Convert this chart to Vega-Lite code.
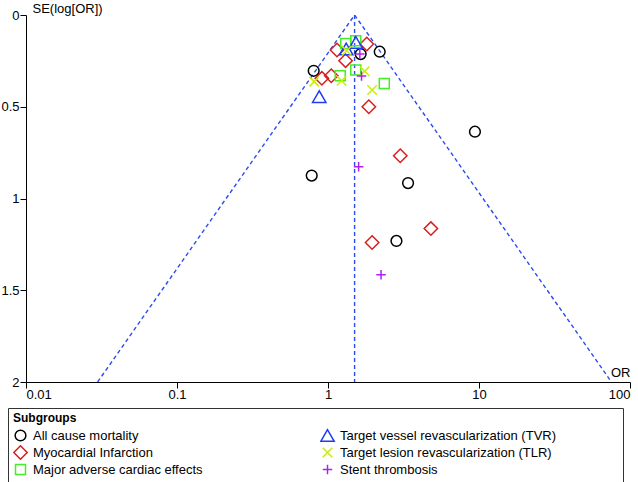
{
  "$schema": "https://vega.github.io/schema/vega-lite/v6.json",
  "width": 604,
  "height": 367,
  "padding": {"left": 0, "top": 2, "right": 5, "bottom": 2},
  "config": {
    "view": {"stroke": null},
    "font": "Liberation Sans",
    "axis": {"labelFont": "Liberation Sans", "titleFont": "Liberation Sans", "labelFontSize": 13, "titleFontSize": 13, "titleFontWeight": "normal", "labelColor": "#000", "titleColor": "#000", "domainColor": "#000", "tickColor": "#000", "grid": false}
  },
  "datasets": {
    "pts": [
      {"g": "All cause mortality", "or": 0.804, "se": 0.304},
      {"g": "All cause mortality", "or": 1.645, "se": 0.213},
      {"g": "All cause mortality", "or": 2.2, "se": 0.2},
      {"g": "All cause mortality", "or": 9.4, "se": 0.636},
      {"g": "All cause mortality", "or": 0.78, "se": 0.875},
      {"g": "All cause mortality", "or": 3.39, "se": 0.916},
      {"g": "All cause mortality", "or": 2.84, "se": 1.231},
      {"g": "Myocardial Infarction", "or": 1.147, "se": 0.191},
      {"g": "Myocardial Infarction", "or": 1.806, "se": 0.158},
      {"g": "Myocardial Infarction", "or": 1.307, "se": 0.249},
      {"g": "Myocardial Infarction", "or": 0.911, "se": 0.345},
      {"g": "Myocardial Infarction", "or": 1.051, "se": 0.331},
      {"g": "Myocardial Infarction", "or": 1.864, "se": 0.5},
      {"g": "Myocardial Infarction", "or": 3.01, "se": 0.767},
      {"g": "Myocardial Infarction", "or": 4.8, "se": 1.164},
      {"g": "Myocardial Infarction", "or": 1.96, "se": 1.24},
      {"g": "Major adverse cardiac effects", "or": 1.31, "se": 0.155},
      {"g": "Major adverse cardiac effects", "or": 1.527, "se": 0.14},
      {"g": "Major adverse cardiac effects", "or": 1.205, "se": 0.331},
      {"g": "Major adverse cardiac effects", "or": 1.527, "se": 0.3},
      {"g": "Major adverse cardiac effects", "or": 2.36, "se": 0.373},
      {"g": "Target vessel revascularization (TVR)", "or": 1.53, "se": 0.15},
      {"g": "Target vessel revascularization (TVR)", "or": 1.32, "se": 0.185},
      {"g": "Target vessel revascularization (TVR)", "or": 0.875, "se": 0.445},
      {"g": "Target lesion revascularization (TLR)", "or": 1.33, "se": 0.195},
      {"g": "Target lesion revascularization (TLR)", "or": 1.75, "se": 0.307},
      {"g": "Target lesion revascularization (TLR)", "or": 0.81, "se": 0.363},
      {"g": "Target lesion revascularization (TLR)", "or": 1.23, "se": 0.358},
      {"g": "Target lesion revascularization (TLR)", "or": 1.96, "se": 0.409},
      {"g": "Stent thrombosis", "or": 1.625, "se": 0.213},
      {"g": "Stent thrombosis", "or": 1.667, "se": 0.333},
      {"g": "Stent thrombosis", "or": 1.595, "se": 0.827},
      {"g": "Stent thrombosis", "or": 2.245, "se": 1.416}
    ],
    "funnel": [
      {"line": "left", "or": 0.0298, "se": 2, "o": 1},
      {"line": "left", "or": 1.5, "se": 0, "o": 2},
      {"line": "right", "or": 1.5, "se": 0, "o": 1},
      {"line": "right", "or": 75.4, "se": 2, "o": 2},
      {"line": "center", "or": 1.5, "se": 0, "o": 1},
      {"line": "center", "or": 1.5, "se": 2, "o": 2}
    ]
  },
  "layer": [
    {
      "data": {"name": "funnel"},
      "mark": {"type": "line", "color": "#2a4cf0", "strokeWidth": 1.4, "strokeDash": [4, 3], "clip": true},
      "encoding": {
        "x": {"field": "or", "type": "quantitative", "scale": {"type": "log", "domain": [0.01, 100]},
          "axis": {"values": [0.01, 0.1, 1, 10, 100], "format": "~g", "title": "OR", "titleAnchor": "end", "titleAlign": "right", "titleX": 604, "titleY": -10, "titleBaseline": "middle", "tickSize": 6, "labelPadding": 0}},
        "y": {"field": "se", "type": "quantitative", "scale": {"domain": [0, 2], "reverse": true, "nice": false, "zero": false},
          "axis": {"values": [0, 0.5, 1, 1.5, 2], "format": "~g", "title": "SE(log[OR])", "titleAngle": 0, "titleAlign": "left", "titleBaseline": "middle", "titleX": 6, "titleY": -7, "tickSize": 6, "labelPadding": 1}},
        "detail": {"field": "line"},
        "order": {"field": "o"}
      }
    },
    {
      "data": {"name": "pts"},
      "mark": {"type": "point", "filled": false, "strokeWidth": 1.5, "opacity": 1},
      "encoding": {
        "x": {"field": "or", "type": "quantitative"},
        "y": {"field": "se", "type": "quantitative"},
        "color": {"field": "g", "type": "nominal", "scale": {
          "domain": ["All cause mortality", "Myocardial Infarction", "Major adverse cardiac effects", "Target vessel revascularization (TVR)", "Target lesion revascularization (TLR)", "Stent thrombosis"],
          "range": ["#000000", "#d81e1e", "#44ee22", "#1f3cf5", "#c8ee00", "#b020f0"]},
          "legend": {"title": "Subgroups", "orient": "none", "legendX": -18, "legendY": 393, "columns": 2, "columnPadding": 117, "rowPadding": 2, "clipHeight": 15, "padding": 5, "strokeColor": "#333", "titleFontSize": 12, "titleFontWeight": "bold", "titleFont": "Liberation Sans", "labelFont": "Liberation Sans", "labelFontSize": 13, "labelColor": "#000", "titleColor": "#000", "symbolStrokeWidth": 1.5, "labelOffset": 5, "titlePadding": 3, "labelLimit": 500,
            "labelExpr": "indexof(datum.label, 'TVR') >= 0 ? datum.label + '\u00a0\u00a0\u00a0\u00a0\u00a0\u00a0\u00a0\u00a0\u00a0\u00a0\u00a0\u00a0\u00a0\u00a0\u00a0\u00a0\u00a0\u200b' : datum.label"}},
        "shape": {"field": "g", "type": "nominal", "scale": {
          "domain": ["All cause mortality", "Myocardial Infarction", "Major adverse cardiac effects", "Target vessel revascularization (TVR)", "Target lesion revascularization (TLR)", "Stent thrombosis"],
          "range": ["circle", "diamond", "square", "triangle-up", "M-1,-1L1,1M-1,1L1,-1", "M0,-1L0,1M-1,0L1,0"]}},
        "size": {"field": "g", "type": "nominal", "scale": {"type": "ordinal",
          "domain": ["All cause mortality", "Myocardial Infarction", "Major adverse cardiac effects", "Target vessel revascularization (TVR)", "Target lesion revascularization (TLR)", "Stent thrombosis"],
          "range": [115, 180, 100, 180, 90, 90]}}
      }
    }
  ]
}
